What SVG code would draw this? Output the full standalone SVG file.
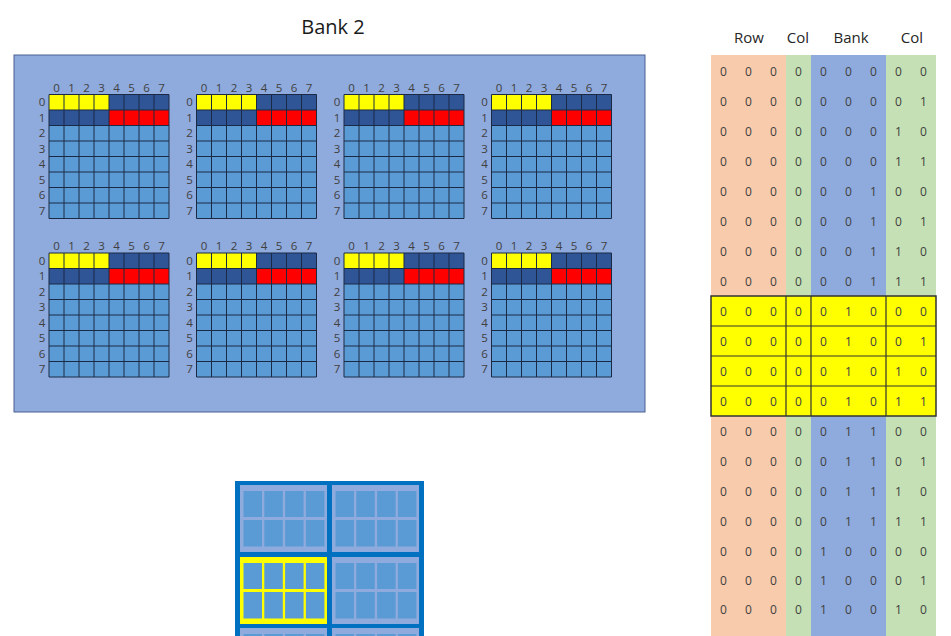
<svg xmlns="http://www.w3.org/2000/svg" xmlns:xlink="http://www.w3.org/1999/xlink" width="951" height="636" viewBox="0 0 951 636">
<style>
text{font-family:"Open Sans","Liberation Sans",sans-serif;fill:#404040}
.lbl{font-size:11.5px;text-anchor:middle}
.t{font-size:12px;text-anchor:middle}
.h{font-size:15px;text-anchor:middle;fill:#262626}
.gl{stroke:#1a2a44;stroke-width:1;fill:none}
.tile{fill:#8FAADC}
.cell{fill:#5B9BD5}
</style>
<defs>
<g id="grid">
<rect x="0" y="0" width="120" height="124" fill="#5B9BD5"/>
<rect x="0" y="0" width="60" height="15.5" fill="#FFFF00"/>
<rect x="60" y="0" width="60" height="15.5" fill="#2F5597"/>
<rect x="0" y="15.5" width="60" height="15.5" fill="#2F5597"/>
<rect x="60" y="15.5" width="60" height="15.5" fill="#FF0000"/>
<path class="gl" d="M0 0V124M15 0V124M30 0V124M45 0V124M60 0V124M75 0V124M90 0V124M105 0V124M120 0V124M0 0H120M0 15.5H120M0 31H120M0 46.5H120M0 62H120M0 77.5H120M0 93H120M0 108.5H120M0 124H120"/>
<text class="lbl" x="7.5" y="-3">0</text><text class="lbl" x="22.5" y="-3">1</text><text class="lbl" x="37.5" y="-3">2</text><text class="lbl" x="52.5" y="-3">3</text><text class="lbl" x="67.5" y="-3">4</text><text class="lbl" x="82.5" y="-3">5</text><text class="lbl" x="97.5" y="-3">6</text><text class="lbl" x="112.5" y="-3">7</text>
<text class="lbl" x="-7" y="11.8">0</text><text class="lbl" x="-7" y="27.3">1</text><text class="lbl" x="-7" y="42.8">2</text><text class="lbl" x="-7" y="58.3">3</text><text class="lbl" x="-7" y="73.8">4</text><text class="lbl" x="-7" y="89.3">5</text><text class="lbl" x="-7" y="104.8">6</text><text class="lbl" x="-7" y="120.3">7</text>
</g>
<g id="cells">
<rect class="cell" x="3.5" y="6" width="18.5" height="26"/><rect class="cell" x="24.3" y="6" width="18.5" height="26"/><rect class="cell" x="45.1" y="6" width="18.5" height="26"/><rect class="cell" x="65.9" y="6" width="18.5" height="26"/>
<rect class="cell" x="3.5" y="35" width="18.5" height="26.5"/><rect class="cell" x="24.3" y="35" width="18.5" height="26.5"/><rect class="cell" x="45.1" y="35" width="18.5" height="26.5"/><rect class="cell" x="65.9" y="35" width="18.5" height="26.5"/>
</g>
</defs>

<text x="333" y="34" style="font-size:20px;fill:#1a1a1a;text-anchor:middle">Bank 2</text>

<g id="bank2">
<rect x="14" y="55" width="631" height="357" fill="#8FAADC" stroke="#4a6190" stroke-width="1"/>
<g id="sub0"><use xlink:href="#grid" x="49" y="94.5"/></g>
<g id="sub1"><use xlink:href="#grid" x="196.5" y="94.5"/></g>
<g id="sub2"><use xlink:href="#grid" x="344" y="94.5"/></g>
<g id="sub3"><use xlink:href="#grid" x="491.5" y="94.5"/></g>
<g id="sub4"><use xlink:href="#grid" x="49" y="253"/></g>
<g id="sub5"><use xlink:href="#grid" x="196.5" y="253"/></g>
<g id="sub6"><use xlink:href="#grid" x="344" y="253"/></g>
<g id="sub7"><use xlink:href="#grid" x="491.5" y="253"/></g>
</g>

<g id="chip">
<rect x="235" y="481" width="189" height="160" fill="#0070C0"/>
<g id="tile0"><rect class="tile" x="240" y="485" width="87" height="67"/><use xlink:href="#cells" x="240" y="485"/></g>
<g id="tile1"><rect class="tile" x="332" y="485" width="87" height="67"/><use xlink:href="#cells" x="332" y="485"/></g>
<g id="tile2"><rect x="240" y="557" width="87" height="67" fill="#FFFF00"/><use xlink:href="#cells" x="240" y="557"/></g>
<g id="tile3"><rect class="tile" x="332" y="557" width="87" height="67"/><use xlink:href="#cells" x="332" y="557"/></g>
<g id="tile4"><rect class="tile" x="240" y="628" width="87" height="67"/><use xlink:href="#cells" x="240" y="628"/></g>
<g id="tile5"><rect class="tile" x="332" y="628" width="87" height="67"/><use xlink:href="#cells" x="332" y="628"/></g>
</g>

<g id="table">
<text class="h" x="749" y="43">Row</text>
<text class="h" x="798" y="43">Col</text>
<text class="h" x="851" y="43">Bank</text>
<text class="h" x="912" y="43">Col</text>
<rect x="711" y="55" width="75" height="581" fill="#F8CBAD"/>
<rect x="786" y="55" width="25" height="581" fill="#C5E0B4"/>
<rect x="811" y="55" width="75" height="581" fill="#8FAADC"/>
<rect x="886" y="55" width="50" height="581" fill="#C5E0B4"/>
<rect x="711" y="296" width="225" height="120" fill="#FFFF00" stroke="#333" stroke-width="1.5"/>
<path d="M711 326H936M711 356H936M711 386H936M786 296V416M811 296V416M886 296V416" stroke="#333" stroke-width="1.2" fill="none"/>
<g id="rows">
<g transform="translate(0,76)"><text class="t" x="723.5">0</text><text class="t" x="748.5">0</text><text class="t" x="773.5">0</text><text class="t" x="798.5">0</text><text class="t" x="823.5">0</text><text class="t" x="848.5">0</text><text class="t" x="873.5">0</text><text class="t" x="898.5">0</text><text class="t" x="923.5">0</text></g>
<g transform="translate(0,106)"><text class="t" x="723.5">0</text><text class="t" x="748.5">0</text><text class="t" x="773.5">0</text><text class="t" x="798.5">0</text><text class="t" x="823.5">0</text><text class="t" x="848.5">0</text><text class="t" x="873.5">0</text><text class="t" x="898.5">0</text><text class="t" x="923.5">1</text></g>
<g transform="translate(0,136)"><text class="t" x="723.5">0</text><text class="t" x="748.5">0</text><text class="t" x="773.5">0</text><text class="t" x="798.5">0</text><text class="t" x="823.5">0</text><text class="t" x="848.5">0</text><text class="t" x="873.5">0</text><text class="t" x="898.5">1</text><text class="t" x="923.5">0</text></g>
<g transform="translate(0,166)"><text class="t" x="723.5">0</text><text class="t" x="748.5">0</text><text class="t" x="773.5">0</text><text class="t" x="798.5">0</text><text class="t" x="823.5">0</text><text class="t" x="848.5">0</text><text class="t" x="873.5">0</text><text class="t" x="898.5">1</text><text class="t" x="923.5">1</text></g>
<g transform="translate(0,196)"><text class="t" x="723.5">0</text><text class="t" x="748.5">0</text><text class="t" x="773.5">0</text><text class="t" x="798.5">0</text><text class="t" x="823.5">0</text><text class="t" x="848.5">0</text><text class="t" x="873.5">1</text><text class="t" x="898.5">0</text><text class="t" x="923.5">0</text></g>
<g transform="translate(0,226)"><text class="t" x="723.5">0</text><text class="t" x="748.5">0</text><text class="t" x="773.5">0</text><text class="t" x="798.5">0</text><text class="t" x="823.5">0</text><text class="t" x="848.5">0</text><text class="t" x="873.5">1</text><text class="t" x="898.5">0</text><text class="t" x="923.5">1</text></g>
<g transform="translate(0,256)"><text class="t" x="723.5">0</text><text class="t" x="748.5">0</text><text class="t" x="773.5">0</text><text class="t" x="798.5">0</text><text class="t" x="823.5">0</text><text class="t" x="848.5">0</text><text class="t" x="873.5">1</text><text class="t" x="898.5">1</text><text class="t" x="923.5">0</text></g>
<g transform="translate(0,286)"><text class="t" x="723.5">0</text><text class="t" x="748.5">0</text><text class="t" x="773.5">0</text><text class="t" x="798.5">0</text><text class="t" x="823.5">0</text><text class="t" x="848.5">0</text><text class="t" x="873.5">1</text><text class="t" x="898.5">1</text><text class="t" x="923.5">1</text></g>
<g transform="translate(0,316)"><text class="t" x="723.5">0</text><text class="t" x="748.5">0</text><text class="t" x="773.5">0</text><text class="t" x="798.5">0</text><text class="t" x="823.5">0</text><text class="t" x="848.5">1</text><text class="t" x="873.5">0</text><text class="t" x="898.5">0</text><text class="t" x="923.5">0</text></g>
<g transform="translate(0,346)"><text class="t" x="723.5">0</text><text class="t" x="748.5">0</text><text class="t" x="773.5">0</text><text class="t" x="798.5">0</text><text class="t" x="823.5">0</text><text class="t" x="848.5">1</text><text class="t" x="873.5">0</text><text class="t" x="898.5">0</text><text class="t" x="923.5">1</text></g>
<g transform="translate(0,376)"><text class="t" x="723.5">0</text><text class="t" x="748.5">0</text><text class="t" x="773.5">0</text><text class="t" x="798.5">0</text><text class="t" x="823.5">0</text><text class="t" x="848.5">1</text><text class="t" x="873.5">0</text><text class="t" x="898.5">1</text><text class="t" x="923.5">0</text></g>
<g transform="translate(0,406)"><text class="t" x="723.5">0</text><text class="t" x="748.5">0</text><text class="t" x="773.5">0</text><text class="t" x="798.5">0</text><text class="t" x="823.5">0</text><text class="t" x="848.5">1</text><text class="t" x="873.5">0</text><text class="t" x="898.5">1</text><text class="t" x="923.5">1</text></g>
<g transform="translate(0,436)"><text class="t" x="723.5">0</text><text class="t" x="748.5">0</text><text class="t" x="773.5">0</text><text class="t" x="798.5">0</text><text class="t" x="823.5">0</text><text class="t" x="848.5">1</text><text class="t" x="873.5">1</text><text class="t" x="898.5">0</text><text class="t" x="923.5">0</text></g>
<g transform="translate(0,466)"><text class="t" x="723.5">0</text><text class="t" x="748.5">0</text><text class="t" x="773.5">0</text><text class="t" x="798.5">0</text><text class="t" x="823.5">0</text><text class="t" x="848.5">1</text><text class="t" x="873.5">1</text><text class="t" x="898.5">0</text><text class="t" x="923.5">1</text></g>
<g transform="translate(0,496)"><text class="t" x="723.5">0</text><text class="t" x="748.5">0</text><text class="t" x="773.5">0</text><text class="t" x="798.5">0</text><text class="t" x="823.5">0</text><text class="t" x="848.5">1</text><text class="t" x="873.5">1</text><text class="t" x="898.5">1</text><text class="t" x="923.5">0</text></g>
<g transform="translate(0,526)"><text class="t" x="723.5">0</text><text class="t" x="748.5">0</text><text class="t" x="773.5">0</text><text class="t" x="798.5">0</text><text class="t" x="823.5">0</text><text class="t" x="848.5">1</text><text class="t" x="873.5">1</text><text class="t" x="898.5">1</text><text class="t" x="923.5">1</text></g>
<g transform="translate(0,556)"><text class="t" x="723.5">0</text><text class="t" x="748.5">0</text><text class="t" x="773.5">0</text><text class="t" x="798.5">0</text><text class="t" x="823.5">1</text><text class="t" x="848.5">0</text><text class="t" x="873.5">0</text><text class="t" x="898.5">0</text><text class="t" x="923.5">0</text></g>
<g transform="translate(0,585)"><text class="t" x="723.5">0</text><text class="t" x="748.5">0</text><text class="t" x="773.5">0</text><text class="t" x="798.5">0</text><text class="t" x="823.5">1</text><text class="t" x="848.5">0</text><text class="t" x="873.5">0</text><text class="t" x="898.5">0</text><text class="t" x="923.5">1</text></g>
<g transform="translate(0,614)"><text class="t" x="723.5">0</text><text class="t" x="748.5">0</text><text class="t" x="773.5">0</text><text class="t" x="798.5">0</text><text class="t" x="823.5">1</text><text class="t" x="848.5">0</text><text class="t" x="873.5">0</text><text class="t" x="898.5">1</text><text class="t" x="923.5">0</text></g>
</g>
</g>
</svg>
